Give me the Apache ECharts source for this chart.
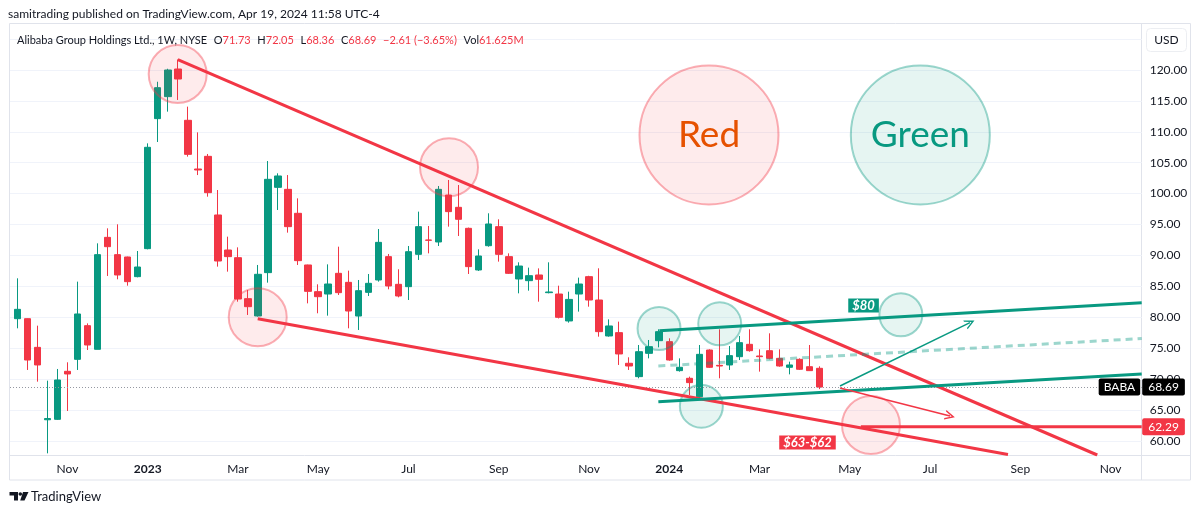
<!DOCTYPE html>
<html>
<head>
<meta charset="utf-8">
<title>BABA 1W</title>
<script src="https://cdn.jsdelivr.net/npm/echarts@6/dist/echarts.min.js"></script>
<style>
  html, body { margin: 0; padding: 0; background: #fff; }
  #main { width: 1200px; height: 513px; }
</style>
</head>
<body>
<div id="main"></div>
<script>
// weekly bars, Monday of each week
var weeks = [
  "2022-10-03","2022-10-10","2022-10-17","2022-10-24","2022-10-31","2022-11-07","2022-11-14","2022-11-21","2022-11-28",
  "2022-12-05","2022-12-12","2022-12-19","2022-12-26",
  "2023-01-02","2023-01-09","2023-01-16","2023-01-23","2023-01-30","2023-02-06","2023-02-13","2023-02-20","2023-02-27",
  "2023-03-06","2023-03-13","2023-03-20","2023-03-27","2023-04-03","2023-04-10","2023-04-17","2023-04-24",
  "2023-05-01","2023-05-08","2023-05-15","2023-05-22","2023-05-29","2023-06-05","2023-06-12","2023-06-19","2023-06-26",
  "2023-07-03","2023-07-10","2023-07-17","2023-07-24","2023-07-31","2023-08-07","2023-08-14","2023-08-21","2023-08-28",
  "2023-09-04","2023-09-11","2023-09-18","2023-09-25","2023-10-02","2023-10-09","2023-10-16","2023-10-23","2023-10-30",
  "2023-11-06","2023-11-13","2023-11-20","2023-11-27","2023-12-04","2023-12-11","2023-12-18","2023-12-25",
  "2024-01-01","2024-01-08","2024-01-15","2024-01-22","2024-01-29","2024-02-05","2024-02-12","2024-02-19","2024-02-26",
  "2024-03-04","2024-03-11","2024-03-18","2024-03-25","2024-04-01","2024-04-08","2024-04-15"
];
var open = [
  79.76,79.76,75.12,63.40,63.47,71.24,73.18,78.63,74.80,92.92,90.12,89.74,86.56,
  91.09,112.13,115.69,120.16,111.86,103.98,106.03,96.54,90.87,89.63,83.00,80.20,87.21,101.01,100.69,96.81,88.45,
  84.13,83.75,87.10,85.64,80.19,84.02,86.02,89.80,85.32,84.94,90.17,92.49,92.17,99.77,97.78,94.38,87.64,91.57,
  94.65,89.80,86.18,85.91,86.83,83.97,83.75,79.39,83.75,86.56,82.78,76.96,77.50,72.54,70.38,74.15,76.20,
  76.04,71.35,70.11,67.14,74.69,72.21,72.27,73.61,75.61,73.72,74.58,73.34,71.89,73.18,71.99,71.73
];
var close = [
  81.27,73.07,72.27,63.60,69.84,70.81,80.52,75.50,90.12,91.41,86.83,85.75,88.12,
  107.49,117.14,120.00,118.54,106.35,103.82,100.15,89.09,89.80,82.94,81.70,86.94,102.31,102.85,94.65,89.15,84.18,
  83.32,85.37,83.97,81.00,84.29,85.48,92.11,85.05,83.43,90.60,94.65,92.45,100.69,97.08,95.84,88.18,89.90,95.08,
  90.17,87.10,88.28,86.72,86.13,84.08,79.98,82.88,85.37,82.78,77.66,78.58,74.05,72.10,74.42,75.23,77.66,
  73.07,71.89,69.41,73.99,71.89,72.10,73.78,75.88,74.58,73.61,73.34,72.10,72.27,71.57,71.35,68.69
];
var low = [
  78.20,71.46,69.57,57.97,63.37,64.82,71.46,74.69,74.80,86.67,86.13,85.10,86.45,
  90.98,108.35,113.26,115.15,105.98,103.00,99.50,88.18,87.37,82.51,80.36,80.09,85.59,97.35,93.68,88.45,82.24,
  80.63,80.25,83.59,78.20,77.93,83.43,85.75,84.51,83.21,82.78,89.26,90.33,91.52,94.65,93.14,86.99,87.48,91.41,
  88.99,86.99,83.86,84.29,82.51,83.86,79.80,79.12,80.90,81.70,76.85,76.85,72.27,71.46,70.11,73.34,75.12,
  72.96,71.19,67.41,66.63,71.78,70.11,71.46,73.07,74.42,71.19,73.18,71.99,70.75,71.46,71.30,68.36
];
var high = [
  86.29,79.80,78.63,69.73,71.62,72.70,85.75,79.00,91.95,94.38,95.03,89.80,90.71,
  108.13,118.10,120.20,121.70,114.07,109.91,106.41,100.58,93.03,91.30,84.40,88.45,105.27,103.28,103.00,99.23,88.50,
  85.32,88.55,91.41,87.53,86.02,86.99,94.27,90.23,87.75,91.52,97.08,94.76,101.23,102.20,101.39,94.50,90.98,96.81,
  95.84,90.33,88.88,88.02,87.90,88.88,85.10,84.13,86.40,86.70,87.91,79.65,79.28,73.51,75.50,76.31,78.04,
  76.58,73.34,70.38,75.50,74.80,78.04,75.34,76.96,78.04,74.80,77.39,74.80,72.80,73.34,75.50,72.05
];

// time axis labels (bar index -> text)
var tickIdx = [5, 13, 22, 30, 39, 48, 57, 65, 74, 83, 91, 100, 109];
var tickText = ["Nov", "2023", "Mar", "May", "Jul", "Sep", "Nov", "2024", "Mar", "May", "Jul", "Sep", "Nov"];
var priceTicks = [60, 65, 70, 75, 80, 85, 90, 95, 100, 105, 110, 115, 120];
var gridTicks = [60, 65, 70, 75, 80, 85, 90, 95, 100, 105, 110, 115, 120, 125];

// drawings, in [bar index, price]
var resLine = [[16.0, 121.67], [107.67, 57.7]];
var supLine = [[23.97, 79.76], [98.77, 57.78]];
var chanTop = [[64.01, 77.82], [112.1, 82.35]];
var chanMid = [[63.91, 72.1], [112.1, 76.55]];
var chanBot = [[63.91, 66.33], [112.1, 70.81]];
var upArrow = [[82.02, 68.87], [94.98, 79.11]];
var downArrow = [[82.02, 68.54], [92.99, 64.01]];
var targetLine = [[84.1, 62.29], [112.1, 62.29]];
var lastClose = 68.69;
var targetPrice = 62.29;
var pinkCircles = [[15.99, 119.35], [43.04, 104.26], [23.97, 79.98], [85.11, 62.56]];
var greenCircles = [[63.98, 78.17], [70.03, 78.93], [68.2, 65.6], [88.09, 80.4]];
var redBig = [68.96, 109.48];
var greenBig = [90.03, 109.48];
var label80 = [84.37, 81.89];
var label6362 = [78.78, 59.72];

var X_MIN = -0.728, X_MAX = 112.1;
var Y_MIN = 57.70, Y_MAX = 127.605;

var UP = "#089981", DOWN = "#f23645", TXT = "#131722";
var FONT = "Lato, 'Open Sans', sans-serif";

var ohlc = weeks.map(function (d, i) {
  return [i, open[i], close[i], low[i], high[i]];
});

function seg(pts, color, width, type, z) {
  return {
    type: "line", data: pts, showSymbol: false, symbol: "none", silent: true,
    clip: true, z: z || 5, animation: false,
    lineStyle: { color: color, width: width, type: type || "solid", cap: "butt", opacity: 1 }
  };
}

var chevron = "path://M0,10 L5,0 L10,10 L8.4,10 L5,3.2 L1.6,10 Z";

var chart = echarts.init(document.getElementById("main"));
chart.setOption({
  animation: false,
  textStyle: { fontFamily: FONT },
  grid: { left: 10, top: 23, right: 58.3, bottom: 58 },
  xAxis: {
    type: "value", min: X_MIN, max: X_MAX,
    axisLine: { show: false }, axisTick: { show: false }, splitLine: { show: false },
    axisLabel: {
      customValues: tickIdx, margin: 8, fontSize: 12, color: TXT, fontFamily: FONT,
      formatter: function (v) {
        var t = tickText[tickIdx.indexOf(Math.round(v))] || "";
        return /^\d{4}$/.test(t) ? "{b|" + t + "}" : t;
      },
      rich: { b: { fontWeight: "bold", fontSize: 12, color: TXT, fontFamily: FONT } }
    }
  },
  yAxis: {
    type: "value", position: "right", min: Y_MIN, max: Y_MAX, scale: true,
    axisLine: { show: false },
    axisTick: { show: false, customValues: gridTicks },
    splitLine: { show: true, lineStyle: { color: "#f0f3fa", width: 1 } },
    axisLabel: {
      customValues: priceTicks, margin: 8, fontSize: 12, color: TXT, fontFamily: FONT,
      formatter: function (v) { return v.toFixed(2); }
    }
  },
  series: [
    {
      type: "candlestick", data: ohlc, encode: { x: 0, y: [1, 2, 3, 4] },
      barWidth: 7, z: 3,
      itemStyle: { color: UP, color0: DOWN, borderColor: UP, borderColor0: DOWN, borderWidth: 1 },
      markLine: {
        silent: true, symbol: "none", animation: false,
        lineStyle: { color: "#9598a1", type: [1, 2], width: 1 },
        label: { show: false },
        data: [{ yAxis: lastClose }]
      }
    },
    // circles
    {
      type: "scatter", silent: true, z: 4, symbolSize: 58,
      itemStyle: { color: "rgba(242,54,69,0.1)", borderColor: "rgba(242,54,69,0.4)", borderWidth: 2, opacity: 1 },
      data: pinkCircles
    },
    {
      type: "scatter", silent: true, z: 4, symbolSize: 43,
      itemStyle: { color: "rgba(8,153,129,0.1)", borderColor: "rgba(8,153,129,0.4)", borderWidth: 2, opacity: 1 },
      data: greenCircles
    },
    {
      type: "scatter", silent: true, z: 4, symbolSize: 139,
      data: [
        {
          value: redBig,
          itemStyle: { color: "rgba(242,54,69,0.1)", borderColor: "rgba(242,54,69,0.4)", borderWidth: 2, opacity: 1 },
          label: { show: true, position: "inside", formatter: "Red", fontSize: 37, color: "#e65100", fontFamily: FONT }
        },
        {
          value: greenBig,
          itemStyle: { color: "rgba(8,153,129,0.1)", borderColor: "rgba(8,153,129,0.4)", borderWidth: 2, opacity: 1 },
          label: { show: true, position: "inside", formatter: "Green", fontSize: 37, color: UP, fontFamily: FONT }
        }
      ]
    },
    // trend lines
    seg(resLine, DOWN, 3),
    seg(supLine, DOWN, 3),
    seg(targetLine, DOWN, 3),
    seg(chanTop, UP, 3),
    seg(chanBot, UP, 3),
    seg(chanMid, "rgba(8,153,129,0.4)", 3, [7, 5]),
    {
      type: "lines", coordinateSystem: "cartesian2d", silent: true, z: 6, animation: false,
      symbol: ["none", chevron], symbolSize: [12, 10],
      lineStyle: { opacity: 1, curveness: 0 },
      data: [
        { coords: upArrow, lineStyle: { color: UP, width: 1.5, opacity: 1 } },
        { coords: downArrow, lineStyle: { color: DOWN, width: 1.5, opacity: 1 } }
      ]
    },
    // text boxes and price tags
    {
      type: "scatter", silent: true, z: 8, symbolSize: 1,
      itemStyle: { color: "rgba(0,0,0,0)", opacity: 1 },
      data: [
        {
          value: label80,
          label: { show: true, position: "inside", formatter: "$80", color: "#fff", fontSize: 13,
            fontWeight: "bold", fontStyle: "italic", backgroundColor: UP, padding: [1, 4, 0, 4], fontFamily: FONT }
        },
        {
          value: label6362,
          label: { show: true, position: "inside", formatter: "$63-$62", color: "#fff", fontSize: 13,
            fontWeight: "bold", fontStyle: "italic", backgroundColor: DOWN, padding: [1, 4, 0, 4], fontFamily: FONT }
        },
        {
          value: [X_MAX, lastClose],
          label: { show: true, position: "right", distance: 0, formatter: lastClose.toFixed(2), color: "#fff",
            fontSize: 12, backgroundColor: "#000", padding: [3, 6, 2, 6], borderRadius: 2, fontFamily: FONT }
        },
        {
          value: [X_MAX, lastClose],
          label: { show: true, position: "left", distance: 1, formatter: "BABA", color: "#fff",
            fontSize: 12, backgroundColor: "#000", padding: [3, 5, 2, 5], borderRadius: 2, fontFamily: FONT }
        },
        {
          value: [X_MAX, targetPrice],
          label: { show: true, position: "right", distance: 0, formatter: targetPrice.toFixed(2), color: "#fff",
            fontSize: 12, backgroundColor: DOWN, padding: [3, 6, 2, 6], borderRadius: 2, fontFamily: FONT }
        }
      ]
    }
  ],
  graphic: [
    { type: "rect", z: -10, shape: { x: 9.5, y: 23.5, width: 1181, height: 456.5 },
      style: { fill: null, stroke: "#e0e3eb", lineWidth: 1 } },
    { type: "line", z: -10, shape: { x1: 9.5, y1: 455.5, x2: 1190.5, y2: 455.5 },
      style: { stroke: "#e0e3eb", lineWidth: 1 } },
    { type: "line", z: -10, shape: { x1: 1141.5, y1: 23.5, x2: 1141.5, y2: 480 },
      style: { stroke: "#e0e3eb", lineWidth: 1 } },
    { type: "rect", z: 10, shape: { x: 1146.5, y: 28.5, width: 40, height: 23, r: 4 },
      style: { fill: "#fff", stroke: "#eceef2", lineWidth: 1 } },
    { type: "text", z: 11, x: 1166.5, y: 40, style: { text: "USD", fill: TXT, font: "12px " + FONT, align: "center", verticalAlign: "middle" } },
    { type: "text", z: 11, x: 8, y: 14,
      style: { text: "samitrading published on TradingView.com, Apr 19, 2024 11:58 UTC-4", fill: TXT,
        font: "12px " + FONT, verticalAlign: "middle" } },
    { type: "text", z: 11, x: 17, y: 40,
      style: {
        text: "{t|Alibaba Group Holdings Ltd., 1W, NYSE}  {t|O}{v|71.73}  {t|H}{v|72.05}  {t|L}{v|68.36}  {t|C}{v|68.69}  {v|\u22122.61 (\u22123.65%)}  {t|Vol}{v|61.625M}",
        verticalAlign: "middle",
        rich: {
          t: { fill: TXT, fontSize: 11, fontFamily: FONT },
          v: { fill: DOWN, fontSize: 11, fontFamily: FONT }
        }
      } },
    // TradingView mark
    { type: "polygon", z: 11, shape: { points: [[9.5, 492], [18, 492], [18, 500.5], [14, 500.5], [14, 495.5], [9.5, 495.5]] },
      style: { fill: "#131722" } },
    { type: "circle", z: 11, shape: { cx: 20.3, cy: 494, r: 1.8 }, style: { fill: "#131722" } },
    { type: "polygon", z: 11, shape: { points: [[23, 492], [28.5, 492], [24.5, 500.5], [20.2, 500.5]] },
      style: { fill: "#131722" } },
    { type: "text", z: 11, x: 31, y: 497,
      style: { text: "TradingView", fill: TXT, font: "13px " + FONT, verticalAlign: "middle" } }
  ]
});
</script>
</body>
</html>
